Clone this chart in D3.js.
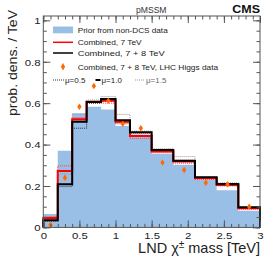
<!DOCTYPE html>
<html>
<head>
<meta charset="utf-8">
<script src="https://cdn.jsdelivr.net/npm/d3@7"></script>
<style>
  body { margin: 0; background: #fff; }
  svg { font-family: "Liberation Sans", Arial, sans-serif; }
</style>
</head>
<body>
<svg width="274" height="263"></svg>
<script>
(function (d3) {
  'use strict';

  // bin edges (TeV)
  const edges = [0, 0.2, 0.4, 0.6, 0.8, 1.0, 1.2, 1.5, 1.8, 2.1, 2.4, 2.7, 3.0];
  // prior from non-DCS data
  const prior = [0.065, 0.37, 0.551, 0.583, 0.57, 0.49, 0.44, 0.355, 0.303, 0.23, 0.18, 0.08];
  // combined 7 TeV, mu = 1.0 / 0.5 / 1.5
  const comb7 = [0.045, 0.272, 0.522, 0.607, 0.612, 0.51, 0.442, 0.366, 0.318, 0.237, 0.205, 0.092];
  const comb7Lo = [0.052, 0.297, 0.53, 0.6, 0.6, 0.5, 0.43, 0.36, 0.31, 0.232, 0.2, 0.088];
  const comb7Hi = [0.04, 0.229, 0.515, 0.61, 0.62, 0.515, 0.45, 0.37, 0.325, 0.24, 0.21, 0.095];
  // combined 7 + 8 TeV, mu = 1.0 / 0.5 / 1.5
  const comb78 = [0.035, 0.208, 0.51, 0.606, 0.62, 0.517, 0.46, 0.374, 0.322, 0.242, 0.21, 0.097];
  const comb78Lo = [0.03, 0.197, 0.479, 0.6, 0.61, 0.505, 0.455, 0.37, 0.318, 0.24, 0.208, 0.095];
  const comb78Hi = [0.045, 0.258, 0.546, 0.615, 0.632, 0.546, 0.465, 0.38, 0.342, 0.245, 0.215, 0.1];
  // combined 7 + 8 TeV with LHC Higgs data (points)
  const higgsX = [0.1, 0.3, 0.5, 0.7, 0.9, 1.1, 1.35, 1.65, 1.95, 2.25, 2.55, 2.85];
  const higgsY = [0.012, 0.24, 0.583, 0.683, 0.612, 0.5, 0.479, 0.313, 0.277, 0.216, 0.208, 0.1];
  const higgsErr = [0.008, 0.01, 0.01, 0.01, 0.01, 0.008, 0.008, 0.008, 0.008, 0.008, 0.008, 0.008];

  const xTicks = [0, 0.5, 1, 1.5, 2, 2.5, 3];
  const yTicks = [0, 0.2, 0.4, 0.6, 0.8, 1];

  const svg = d3.select('svg');
  const margin = { top: 16, right: 14, bottom: 35.6, left: 43.3 };
  const width = 274, height = 263;
  const innerWidth = width - margin.left - margin.right;
  const innerHeight = height - margin.top - margin.bottom;

  const xScale = d3.scaleLinear().domain([0, 3]).range([0, innerWidth]);
  const yScale = d3.scaleLinear().domain([0, 1.021]).range([innerHeight, 0]);

  const g = svg.append('g')
    .attr('transform', `translate(${margin.left},${margin.top})`);

  const stepLine = vals => {
    const pts = [];
    vals.forEach((v, i) => {
      pts.push([edges[i], v]);
      pts.push([edges[i + 1], v]);
    });
    return pts;
  };
  const lineGen = d3.line()
    .x(d => xScale(d[0]))
    .y(d => yScale(d[1]));

  // prior fill
  const areaGen = d3.area()
    .x(d => xScale(d[0]))
    .y0(yScale(0))
    .y1(d => yScale(d[1]));
  g.append('path')
    .attr('d', areaGen(stepLine(prior)))
    .attr('fill', '#99bfe7');

  const closed = vals => [[0, 0]].concat(stepLine(vals), [[3, 0]]);

  // mu variations
  g.append('path').attr('d', lineGen(closed(comb7Lo)))
    .attr('fill', 'none').attr('stroke', '#ff4040').attr('stroke-width', 1).attr('stroke-dasharray', '1,1');
  g.append('path').attr('d', lineGen(closed(comb7Hi)))
    .attr('fill', 'none').attr('stroke', '#ff9090').attr('stroke-width', 1).attr('stroke-dasharray', '1,1');
  g.append('path').attr('d', lineGen(closed(comb78Lo)))
    .attr('fill', 'none').attr('stroke', '#333').attr('stroke-width', 1).attr('stroke-dasharray', '1,1');
  g.append('path').attr('d', lineGen(closed(comb78Hi)))
    .attr('fill', 'none').attr('stroke', '#999').attr('stroke-width', 1).attr('stroke-dasharray', '1,1');

  // main lines
  g.append('path').attr('d', lineGen(closed(comb7)))
    .attr('fill', 'none').attr('stroke', '#ff0000').attr('stroke-width', 2);
  g.append('path').attr('d', lineGen(closed(comb78)))
    .attr('fill', 'none').attr('stroke', '#000').attr('stroke-width', 2);

  // Higgs points
  const diamond = (cx, cy) =>
    `M${cx},${cy - 3.2}L${cx + 2.2},${cy}L${cx},${cy + 3.2}L${cx - 2.2},${cy}Z`;
  const pts = g.append('g');
  higgsX.forEach((x, i) => {
    const cx = xScale(x), cy = yScale(higgsY[i]);
    pts.append('line')
      .attr('x1', cx).attr('x2', cx)
      .attr('y1', yScale(higgsY[i] - higgsErr[i])).attr('y2', yScale(higgsY[i] + higgsErr[i]))
      .attr('stroke', '#ff6a00').attr('stroke-width', 1);
    pts.append('path').attr('d', diamond(cx, cy)).attr('fill', '#ff6a00');
  });

  // axes (ticks inside, mirrored)
  const frameColor = '#555';
  const xMinor = d3.range(0, 3.0001, 0.1);
  const yMinor = d3.range(0, 1.0001, 0.05);
  const stretch = 1.2;
  const tidy = s => { s.select('.domain').remove(); s.selectAll('line').attr('stroke', frameColor); };

  const xAxisG = g.append('g').attr('transform', `translate(0,${innerHeight})`)
    .call(d3.axisBottom(xScale).tickValues(xTicks).tickSize(-7).tickFormat(d3.format('~g')))
    .call(tidy);
  xAxisG.selectAll('.tick text')
    .attr('y', 0).attr('dy', 0)
    .attr('transform', `translate(0,11.6) scale(${stretch},1)`)
    .attr('font-size', 9.5).attr('fill', '#222');
  g.append('g').attr('transform', `translate(0,${innerHeight})`)
    .call(d3.axisBottom(xScale).tickValues(xMinor).tickSize(-3.5).tickFormat('')).call(tidy);
  g.append('g')
    .call(d3.axisTop(xScale).tickValues(xTicks).tickSize(-7).tickFormat('')).call(tidy);
  g.append('g')
    .call(d3.axisTop(xScale).tickValues(xMinor).tickSize(-3.5).tickFormat('')).call(tidy);

  const yAxisG = g.append('g')
    .call(d3.axisLeft(yScale).tickValues(yTicks).tickSize(-7).tickFormat(d3.format('~g')))
    .call(tidy);
  yAxisG.selectAll('.tick text')
    .attr('x', 0).attr('dy', '0.35em')
    .attr('transform', `translate(-2.8,0) scale(${stretch},1)`)
    .attr('font-size', 9.5).attr('fill', '#222');
  g.append('g')
    .call(d3.axisLeft(yScale).tickValues(yMinor).tickSize(-3.5).tickFormat('')).call(tidy);
  g.append('g').attr('transform', `translate(${innerWidth},0)`)
    .call(d3.axisRight(yScale).tickValues(yTicks).tickSize(-7).tickFormat('')).call(tidy);
  g.append('g').attr('transform', `translate(${innerWidth},0)`)
    .call(d3.axisRight(yScale).tickValues(yMinor).tickSize(-3.5).tickFormat('')).call(tidy);

  g.append('rect')
    .attr('width', innerWidth).attr('height', innerHeight)
    .attr('fill', 'none').attr('stroke', frameColor).attr('stroke-width', 1);

  // axis titles
  const xt = svg.append('text')
    .attr('x', margin.left + innerWidth).attr('y', 253.3)
    .attr('text-anchor', 'end').attr('font-size', 14.5).attr('fill', '#222');
  xt.append('tspan').text('LND χ');
  xt.append('tspan').attr('dy', -5.5).attr('font-size', 10).text('±');
  xt.append('tspan').attr('dy', 5.5).text(' mass [TeV]');

  svg.append('text')
    .attr('transform', 'translate(17,10) rotate(-90)')
    .attr('text-anchor', 'end').attr('font-size', 13).attr('fill', '#222')
    .attr('textLength', 106).attr('lengthAdjust', 'spacingAndGlyphs')
    .text('prob. dens. / TeV');

  svg.append('text').attr('x', 136).attr('y', 12.8)
    .attr('font-size', 8.5).attr('fill', '#333')
    .attr('textLength', 30.5).attr('lengthAdjust', 'spacingAndGlyphs').text('pMSSM');
  svg.append('text').attr('x', 232.3).attr('y', 13.3)
    .attr('font-size', 10).attr('font-weight', 'bold').attr('fill', '#111')
    .attr('textLength', 27.7).attr('lengthAdjust', 'spacingAndGlyphs').text('CMS');

  // legend
  const leg = svg.append('g').attr('font-size', 8).attr('fill', '#222');
  const lx = 53, tx = 77.7;
  const legText = (y, str, len) => leg.append('text').attr('x', tx).attr('y', y)
    .attr('textLength', len).attr('lengthAdjust', 'spacingAndGlyphs').text(str);
  leg.append('rect').attr('x', lx).attr('y', 26.5).attr('width', 20).attr('height', 6.8).attr('fill', '#99bfe7');
  legText(33, 'Prior from non-DCS data', 90);
  leg.append('line').attr('x1', lx).attr('x2', lx + 20).attr('y1', 42.3).attr('y2', 42.3)
    .attr('stroke', '#ff0000').attr('stroke-width', 1.5);
  legText(45, 'Combined, 7 TeV', 64);
  leg.append('line').attr('x1', lx).attr('x2', lx + 20).attr('y1', 53).attr('y2', 53)
    .attr('stroke', '#000').attr('stroke-width', 1.5);
  legText(56, 'Combined, 7 + 8 TeV', 87);
  leg.append('line').attr('x1', lx + 10).attr('x2', lx + 10).attr('y1', 63.5).attr('y2', 70)
    .attr('stroke', '#ff6a00');
  leg.append('path').attr('d', diamond(lx + 10, 66.7)).attr('fill', '#ff6a00');
  legText(69.5, 'Combined, 7 + 8 TeV, LHC Higgs data', 140.5);

  const muRow = [
    { x: 53, label: 'μ=0.5', stroke: '#333', fill: '#222', dash: '1,1', w: 1, len: 11 },
    { x: 95.5, label: 'μ=1.0', stroke: '#000', fill: '#222', dash: null, w: 2, len: 5 },
    { x: 135, label: 'μ=1.5', stroke: '#999', fill: '#666', dash: '1,1', w: 1, len: 10 }
  ];
  muRow.forEach(m => {
    leg.append('line').attr('x1', m.x).attr('x2', m.x + m.len).attr('y1', 80).attr('y2', 80)
      .attr('stroke', m.stroke).attr('stroke-width', m.w).attr('stroke-dasharray', m.dash);
    leg.append('text').attr('x', m.x + m.len + 1).attr('y', 82.7)
      .attr('fill', m.fill).text(m.label);
  });

}(d3));
</script>
</body>
</html>
